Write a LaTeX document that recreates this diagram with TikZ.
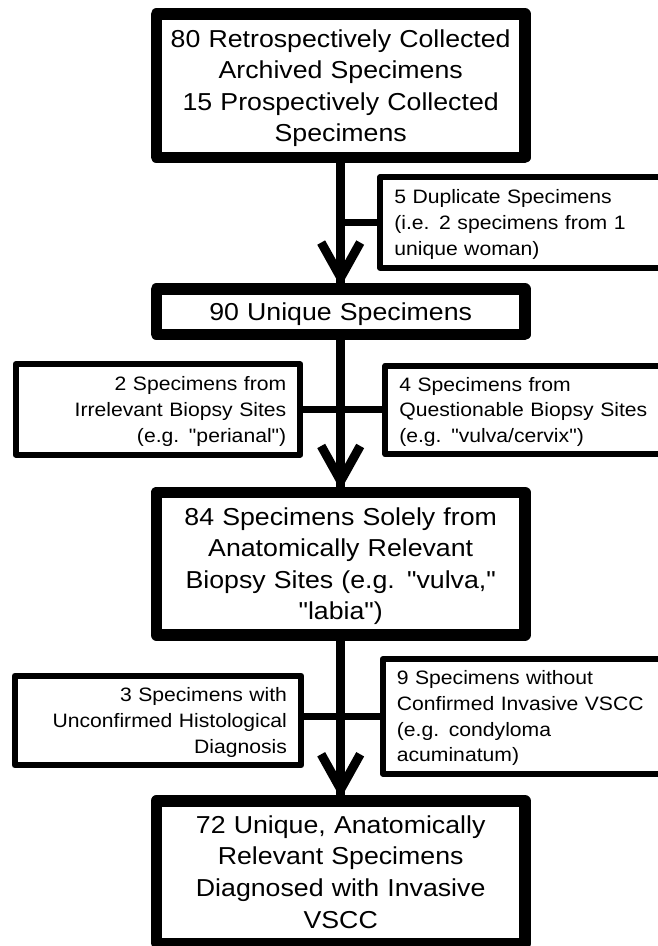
\documentclass[tikz,border=0pt]{standalone}
\usepackage{fontspec}
\newfontfamily\mainf{Liberation Sans}[FakeStretch=1.09]
\usetikzlibrary{calc}
\begin{document}
\begin{tikzpicture}[x=1pt,y=-1pt,
  bigbox/.style={draw, line width=11.5pt, line join=round, minimum width=368.5pt,
    text width=350pt, align=center, inner sep=0pt,
    font={\mainf\fontsize{24.5}{31.6}\selectfont}, text height=17.5pt},
  sidebox/.style={draw, line width=6pt, line join=round, inner xsep=14pt, inner ysep=0pt,
    font={\mainf\fontsize{19.4}{25.7}\selectfont\spaceskip=8pt plus 2pt\relax},
    text height=13.9pt},
  vline/.style={line width=8.5pt},
  hline/.style={line width=7.5pt},
  chev/.style={line width=9pt, line join=miter},
]
\useasboundingbox (0,0) rectangle (658,946);
\clip (0,0) rectangle (658,946);

% main boxes
\node[bigbox, minimum height=143.2pt, text depth=94.8pt] (n1) at (340.7,85.65)
  {80 Retrospectively Collected\\ Archived Specimens\\ 15 Prospectively Collected\\ Specimens};
\node[bigbox, minimum height=45.2pt, text depth=0pt] (n2) at (340.7,311.65)
  {90 Unique Specimens};
\node[bigbox, minimum height=142.5pt, text depth=94.8pt] (n3) at (340.7,563.7)
  {84 Specimens Solely from\\ Anatomically Relevant\\ Biopsy Sites (e.g. "vulva,"\\ "labia")};
\node[bigbox, minimum height=142.5pt, text depth=94.8pt] (n4) at (340.7,872)
  {72 Unique, Anatomically\\ Relevant Specimens\\ Diagnosed with Invasive\\ VSCC};

% side boxes
\node[sidebox, text width=256.6pt, align=left, minimum height=90.4pt, text depth=51.4pt] (s1) at (522.6,222.5)
  {5 Duplicate Specimens\\ (i.e. 2 specimens from 1\\ unique woman)};
\node[sidebox, text width=256.6pt, align=right, minimum height=90.6pt, text depth=51.4pt] (s2) at (158,409.5)
  {2 Specimens from\\ Irrelevant Biopsy Sites\\ (e.g. "perianal")};
\node[sidebox, text width=256.6pt, align=left, minimum height=88.6pt, text depth=51.4pt] (s3) at (527.6,410)
  {4 Specimens from\\ Questionable Biopsy Sites\\ (e.g. "vulva/cervix")};
\node[sidebox, text width=258.3pt, align=right, minimum height=89.6pt, text depth=51.4pt] (s4) at (157.85,720.5)
  {3 Specimens with\\ Unconfirmed Histological\\ Diagnosis};
\node[sidebox, text width=258.3pt, align=left, minimum height=114.7pt, text depth=77.1pt] (s5) at (526,716.35)
  {9 Specimens without\\ Confirmed Invasive VSCC\\ (e.g. condyloma\\ acuminatum)};

% connectors
\draw[vline] (n1.south) -- (n2.north);
\draw[vline] (n2.south) -- (n3.north);
\draw[vline] (n3.south) -- (n4.north);
\draw[hline] (s1.west) -- (s1.west -| n1.south);
\draw[hline] (s2.east) -- (s2.east -| s3.west);
\draw[hline] (s4.east |- s5.west) -- (s5.west);
\foreach \t in {n2,n3,n4}
  \draw[chev] ($(\t.north)+(-19.5,-40.75)$) -- ($(\t.north)+(0,-5.75)$) -- ($(\t.north)+(19.5,-40.75)$);
\end{tikzpicture}
\end{document}
